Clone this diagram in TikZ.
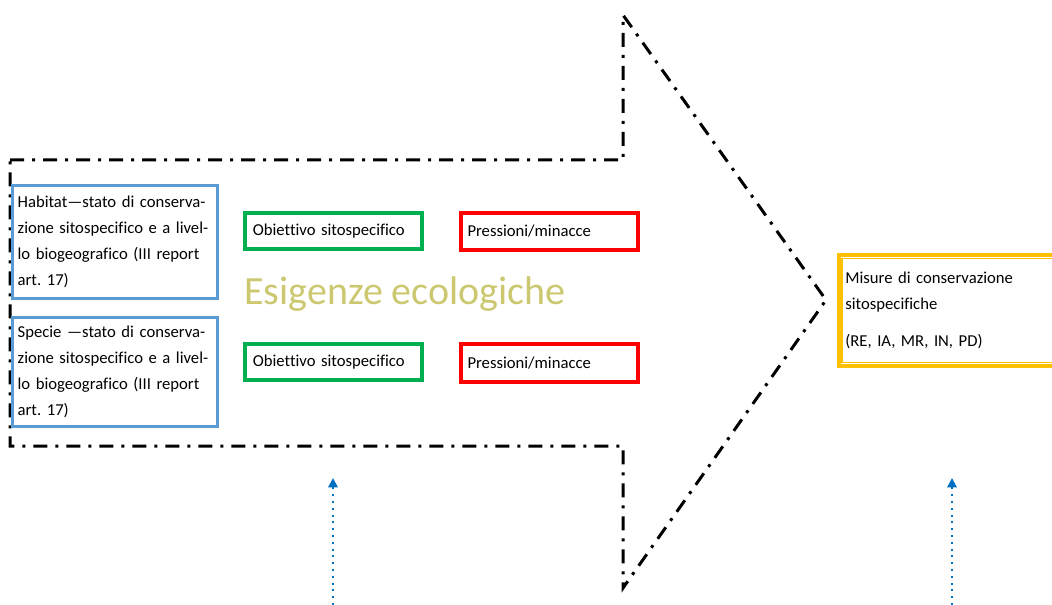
\documentclass[tikz,border=0pt]{standalone}
\usepackage{fontspec}
\setmainfont{Carlito}[Ligatures=NoCommon]
\usetikzlibrary{positioning, arrows.meta}
\frenchspacing

\definecolor{boxblue}{RGB}{91,155,213}
\definecolor{boxgreen}{RGB}{0,176,80}
\definecolor{boxred}{RGB}{255,0,0}
\definecolor{boxorange}{RGB}{255,192,0}
\definecolor{titlekhaki}{RGB}{204,200,112}
\definecolor{arrowblue}{RGB}{0,112,192}

\begin{document}
\begin{tikzpicture}[x=0.75pt, y=-0.75pt,
    block/.style={draw, rectangle, align=left, inner xsep=4pt, inner ysep=0pt,
        font=\fontsize{12.5}{19.5}\selectfont},
    bluebox/.style={block, boxblue, line width=2.25pt, text=black, text width=146pt, minimum height=82pt},
    greenbox/.style={block, boxgreen, line width=3pt, text=black, text width=121pt, minimum height=27pt,
        inner xsep=6pt},
    redbox/.style={block, boxred, line width=3pt, text=black, text width=123pt, minimum height=28pt,
        inner xsep=5pt},
    orangebox/.style={block, boxorange, line width=3pt, text=black, text width=157pt, minimum height=83pt,
        inner xsep=5pt},
    title/.style={font=\fontsize{30}{32}\selectfont, text=titlekhaki, inner sep=0pt},
    dashdot/.style={line width=2.25pt, dash pattern=on 10.5pt off 6pt on 2.25pt off 6pt},
    dotarrow/.style={-{Triangle[width=7pt, length=7pt]}, arrowblue, line width=1.5pt,
        dash pattern=on 1.5pt off 3.6pt}]

    \useasboundingbox (0,0) rectangle (1052,605);

    % Arrow outline
    \draw[dashdot] (10,160) -- (623,160) -- (623,15) -- (826,300) -- (623,588) -- (623,446) -- (10,446) -- cycle;

    % Nodes
    \node[bluebox, minimum height=85pt] (habitat) at (115,242)
        {Habitat—stato di conserva-\\zione sitospecifico e a livel-\\lo biogeografico (III report\\art. 17)};
    \node[bluebox] (specie) at (115,372)
        {Specie —stato di conserva-\\zione sitospecifico e a livel-\\lo biogeografico (III report\\art. 17)};
    \node[greenbox] (obiettivoA) at (333.5,231) {Obiettivo sitospecifico};
    \node[greenbox] (obiettivoB) at (333.5,362.5) {Obiettivo sitospecifico};
    \node[redbox] (pressioniA) at (549.5,231.5) {Pressioni/minacce};
    \node[redbox] (pressioniB) at (549.5,363) {Pressioni/minacce};
    \node[title] (esigenze) at (405,294) {Esigenze ecologiche};
    \node[orangebox] (misure) at (950,310.5)
        {Misure di conservazione\\sitospecifiche\\[8pt](RE, IA, MR, IN, PD)};
    \draw[boxorange, line width=1pt] ([shift={(4pt,-4pt)}]misure.north west) rectangle ([shift={(-4pt,4pt)}]misure.south east);

    % Arrows
    \coordinate (srcA) at (333,605);
    \coordinate (tipA) at (333,478);
    \coordinate (srcB) at (952,605);
    \coordinate (tipB) at (952,478);
    \draw[dotarrow] (srcA) -- (tipA);
    \draw[dotarrow] (srcB) -- (tipB);
\end{tikzpicture}
\end{document}
